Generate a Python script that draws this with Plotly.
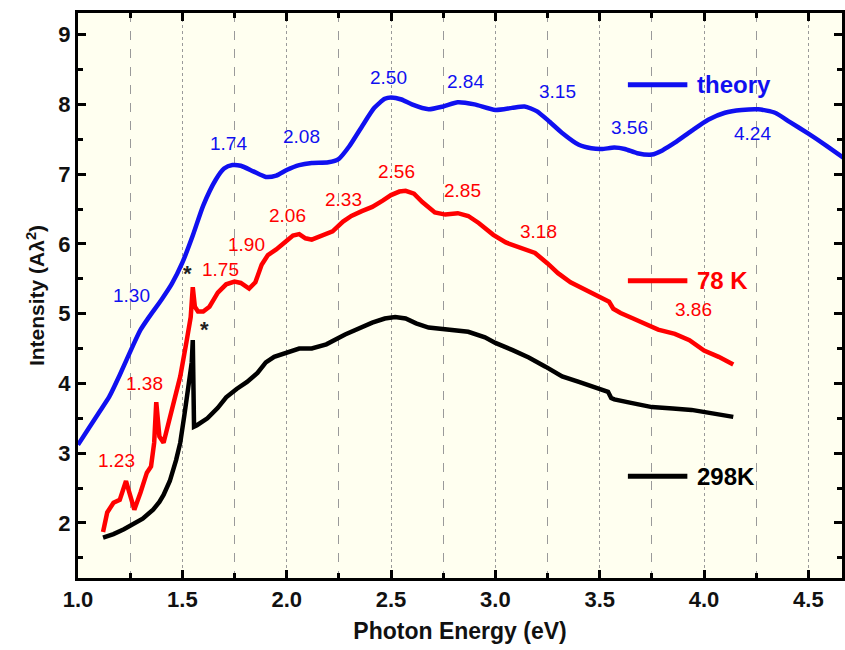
import plotly.graph_objects as go

# ---- data ----
theory_x = [1.00,1.05,1.10,1.15,1.20,1.26,1.30,1.34,1.40,1.45,1.50,1.55,1.60,1.66,1.70,1.74,1.78,1.84,1.90,1.95,2.00,2.06,2.12,2.20,2.25,2.30,2.36,2.42,2.47,2.50,2.55,2.60,2.68,2.75,2.82,2.90,3.00,3.08,3.14,3.20,3.26,3.32,3.40,3.46,3.51,3.57,3.62,3.68,3.75,3.80,3.86,3.94,4.02,4.10,4.18,4.26,4.34,4.41,4.50,4.58,4.67]
theory_y = [3.12,3.35,3.58,3.81,4.12,4.52,4.77,4.95,5.20,5.43,5.73,6.12,6.55,6.92,7.08,7.13,7.12,7.04,6.96,6.98,7.06,7.13,7.16,7.17,7.22,7.40,7.68,7.95,8.08,8.10,8.07,8.00,7.93,7.97,8.03,8.00,7.92,7.95,7.97,7.90,7.75,7.59,7.42,7.37,7.36,7.38,7.36,7.30,7.28,7.34,7.45,7.62,7.78,7.88,7.92,7.93,7.88,7.75,7.58,7.42,7.23]

k78_x = [1.12,1.14,1.17,1.20,1.23,1.245,1.27,1.30,1.33,1.35,1.365,1.375,1.39,1.41,1.44,1.49,1.52,1.54,1.55,1.56,1.575,1.60,1.63,1.67,1.71,1.75,1.78,1.82,1.85,1.88,1.91,1.95,1.99,2.03,2.06,2.09,2.12,2.17,2.22,2.27,2.31,2.36,2.41,2.46,2.50,2.54,2.57,2.61,2.65,2.71,2.76,2.82,2.87,2.92,2.99,3.05,3.11,3.19,3.25,3.30,3.36,3.42,3.48,3.52,3.545,3.565,3.60,3.66,3.72,3.78,3.86,3.93,4.00,4.07,4.14]
k78_y = [1.87,2.15,2.29,2.33,2.60,2.44,2.19,2.44,2.72,2.81,3.15,3.73,3.24,3.15,3.53,4.10,4.60,4.95,5.38,5.10,5.03,5.03,5.10,5.30,5.42,5.46,5.44,5.36,5.45,5.70,5.84,5.92,6.02,6.12,6.14,6.08,6.06,6.12,6.18,6.32,6.40,6.47,6.53,6.62,6.70,6.75,6.76,6.72,6.60,6.45,6.42,6.44,6.40,6.30,6.13,6.02,5.96,5.87,5.72,5.58,5.45,5.36,5.27,5.20,5.17,5.07,5.01,4.93,4.85,4.77,4.71,4.62,4.47,4.38,4.27]

k298_x = [1.12,1.17,1.22,1.26,1.31,1.36,1.39,1.41,1.44,1.47,1.49,1.51,1.53,1.545,1.55,1.556,1.57,1.62,1.67,1.71,1.76,1.81,1.86,1.90,1.94,1.98,2.06,2.12,2.19,2.28,2.35,2.41,2.47,2.52,2.57,2.62,2.68,2.75,2.87,2.95,3.00,3.08,3.16,3.24,3.32,3.40,3.49,3.54,3.555,3.57,3.65,3.75,3.85,3.94,4.04,4.14]
k298_y = [1.79,1.84,1.91,1.97,2.06,2.19,2.30,2.40,2.60,2.90,3.15,3.55,4.00,4.30,4.62,3.38,3.40,3.50,3.65,3.80,3.92,4.02,4.15,4.30,4.38,4.42,4.50,4.50,4.56,4.70,4.80,4.87,4.93,4.95,4.93,4.86,4.80,4.78,4.74,4.66,4.58,4.48,4.37,4.24,4.10,4.02,3.94,3.88,3.79,3.77,3.72,3.66,3.64,3.62,3.57,3.52]

blue_lbl = ["1.30","1.74","2.08","2.50","2.84","3.15","3.56","4.24"]
blue_lx = [1.258,1.721,2.069,2.489,2.857,3.30,3.644,4.232]
blue_ly = [5.26,7.44,7.54,8.38,8.33,8.18,7.67,7.58]

red_lbl = ["1.23","1.38","1.75","1.90","2.06","2.33","2.56","2.85","3.18","3.86"]
red_lx = [1.186,1.320,1.683,1.807,2.002,2.274,2.527,2.842,3.205,3.95]
red_ly = [2.90,4.00,5.63,5.99,6.41,6.64,7.04,6.77,6.18,5.06]

star_x = [1.525,1.606]
star_y = [5.58,4.77]

legend_names = ["theory", "78 K", "298K"]
legend_y = [8.28, 5.47, 2.67]
colors = ["#1010F0", "#FF0000", "#000000"]

FONT = "Liberation Sans, Arial, Helvetica, sans-serif"

fig = go.Figure()
for xs, ys, c, nm, shp in [(theory_x, theory_y, colors[0], "theory", "spline"),
                           (k78_x, k78_y, colors[1], "78 K", "linear"),
                           (k298_x, k298_y, colors[2], "298K", "linear")]:
    fig.add_trace(go.Scatter(x=xs, y=ys, mode="lines", name=nm,
                             line=dict(color=c, width=4.5, shape=shp, smoothing=0.6)))

ann = []
for t, x, y in zip(blue_lbl, blue_lx, blue_ly):
    ann.append(dict(x=x, y=y, text=t, showarrow=False, font=dict(family=FONT, size=19, color=colors[0])))
for t, x, y in zip(red_lbl, red_lx, red_ly):
    ann.append(dict(x=x, y=y, text=t, showarrow=False, font=dict(family=FONT, size=19, color=colors[1])))
for x, y in zip(star_x, star_y):
    ann.append(dict(x=x, y=y, text="<b>*</b>", showarrow=False, font=dict(family=FONT, size=22, color="#222")))

shapes = []
for nm, y, c in zip(legend_names, legend_y, colors):
    shapes.append(dict(type="line", xref="x", yref="y", x0=3.635, x1=3.92, y0=y, y1=y,
                       line=dict(color=c, width=5)))
    ann.append(dict(x=3.955, y=y, text="<b>%s</b>" % nm, showarrow=False, xanchor="left",
                    font=dict(family=FONT, size=24, color=c)))

fig.update_layout(
    width=845, height=650,
    margin=dict(l=78, r=0, t=13, b=72),
    paper_bgcolor="white", plot_bgcolor="#FFFFF0",
    showlegend=False,
    annotations=ann, shapes=shapes,
    font=dict(family=FONT, color="black"),
)
fig.update_xaxes(
    range=[1.0, 4.661], dtick=0.5, tick0=0, tickformat=".1f",
    showline=True, linewidth=3, linecolor="black", mirror="ticks",
    ticks="inside", ticklen=8, tickwidth=3, tickcolor="black",
    tickfont=dict(family=FONT, size=22, color="#111", weight="bold"),
    showgrid=True, gridcolor="#9a9a9a", gridwidth=1, griddash="dot",
    minor=dict(dtick=0.25, ticks="inside", ticklen=5, tickwidth=3, tickcolor="black",
               showgrid=True, gridcolor="#9a9a9a", gridwidth=1, griddash="dash"),
    title=dict(text="<b>Photon Energy (eV)</b>", font=dict(family=FONT, size=23, color="#111"), standoff=12),
    zeroline=False,
)
fig.update_yaxes(
    range=[1.21, 9.31], dtick=1, tick0=0,
    showline=True, linewidth=3, linecolor="black", mirror="ticks",
    ticks="inside", ticklen=8, tickwidth=3, tickcolor="black",
    tickfont=dict(family=FONT, size=22, color="#111", weight="bold"),
    showgrid=False,
    minor=dict(dtick=0.5, ticks="inside", ticklen=5, tickwidth=3, tickcolor="black", showgrid=False),
    title=dict(text="<b>Intensity (Aλ<sup>2</sup>)</b>", font=dict(family=FONT, size=21, color="#111"), standoff=8),
    zeroline=False,
)
fig.write_html("out.html")
